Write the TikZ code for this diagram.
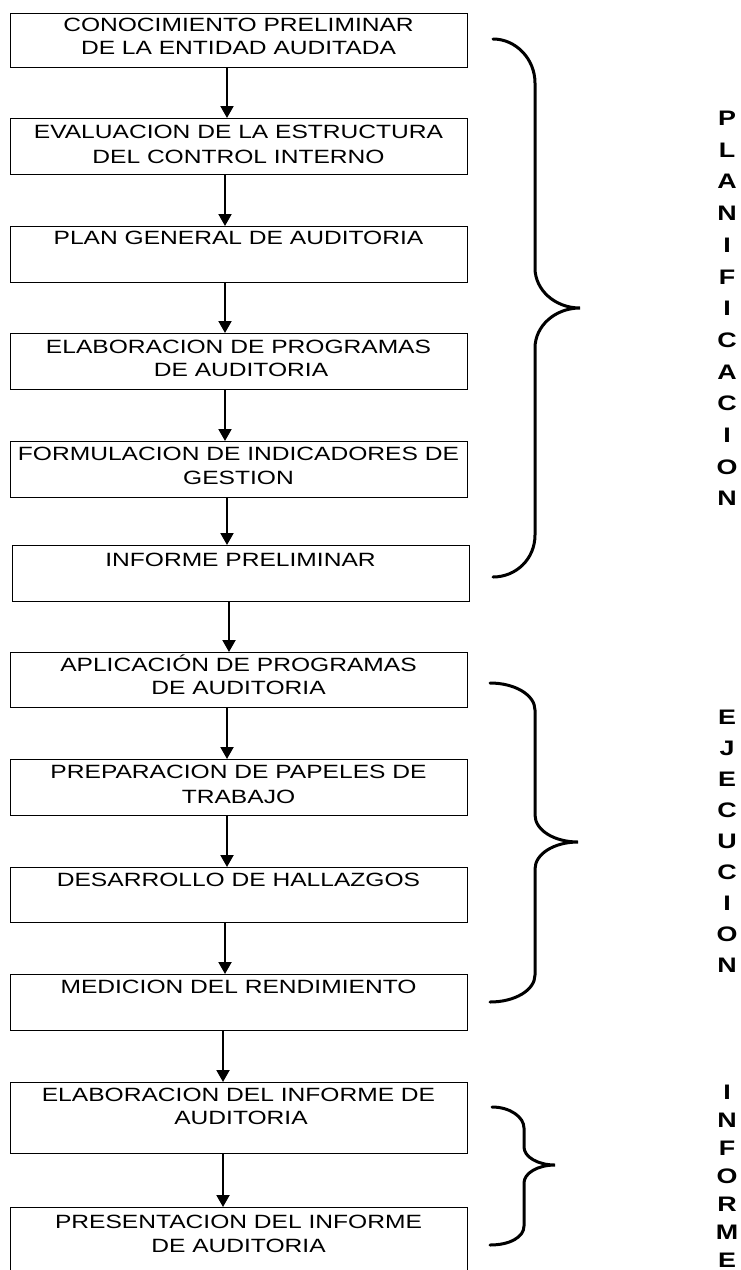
\documentclass[tikz,border=0pt]{standalone}
\usepackage{fontspec}
\setmainfont{Liberation Sans}[FakeStretch=1.28]
\usetikzlibrary{arrows.meta}
\begin{document}
\begin{tikzpicture}[x=1pt,y=-1pt,
  box/.style={draw,line width=1.4pt,minimum width=457pt,inner sep=0pt,anchor=north west},
  txt/.style={anchor=base,inner sep=0pt,font=\fontsize{19.2}{23.5}\selectfont},
  arr/.style={line width=2pt,-{Triangle[width=13pt,length=12pt]}},
  brace/.style={line width=3pt,line cap=round},
  vlet/.style={anchor=base,inner sep=0pt,font=\fontsize{21}{24}\selectfont\bfseries}]
\useasboundingbox (0,0) rectangle (740,1270);
\clip (0,0) rectangle (740,1270);
% boxes
\node[box,minimum height=54pt] (b1) at (10,13) {};
\node[box,minimum height=56pt] (b2) at (10,118) {};
\node[box,minimum height=56pt] (b3) at (10,226) {};
\node[box,minimum height=56pt] (b4) at (10,333) {};
\node[box,minimum height=56pt] (b5) at (10,441) {};
\node[box,minimum height=56pt] (b6) at (12,545) {};
\node[box,minimum height=55pt] (b7) at (10,652) {};
\node[box,minimum height=56pt] (b8) at (10,759) {};
\node[box,minimum height=55pt] (b9) at (10,867) {};
\node[box,minimum height=56pt] (b10) at (10,974) {};
\node[box,minimum height=71pt] (b11) at (10,1082) {};
\node[box,minimum height=80pt] (b12) at (10,1207) {};
% texts
\node[txt] (t1a) at (238.5,31.8) {CONOCIMIENTO PRELIMINAR};
\node[txt] (t1b) at (238.5,54.8) {DE LA ENTIDAD AUDITADA};
\node[txt] (t2a) at (238.5,138.8) {EVALUACION DE LA ESTRUCTURA};
\node[txt] (t2b) at (238.5,163.8) {DEL CONTROL INTERNO};
\node[txt] (t3) at (238.5,244.8) {PLAN GENERAL DE AUDITORIA};
\node[txt] (t4a) at (238.5,353.8) {ELABORACION DE PROGRAMAS};
\node[txt] (t4b) at (241,376.8) {DE AUDITORIA};
\node[txt] (t5a) at (238.5,460.8) {FORMULACION DE INDICADORES DE};
\node[txt] (t5b) at (238.5,484.8) {GESTION};
\node[txt] (t6) at (240.5,566.8) {INFORME PRELIMINAR};
\node[txt] (t7a) at (238.5,671.8) {APLICACIÓN DE PROGRAMAS};
\node[txt] (t7b) at (238.5,694.8) {DE AUDITORIA};
\node[txt] (t8a) at (238.5,778.8) {PREPARACION DE PAPELES DE};
\node[txt] (t8b) at (238.5,803.8) {TRABAJO};
\node[txt] (t9) at (238.5,886.8) {DESARROLLO DE HALLAZGOS};
\node[txt] (t10) at (238.5,993.8) {MEDICION DEL RENDIMIENTO};
\node[txt] (t11a) at (238.5,1101.8) {ELABORACION DEL INFORME DE};
\node[txt] (t11b) at (241,1124.8) {AUDITORIA};
\node[txt] (t12a) at (238.5,1228.8) {PRESENTACION DEL INFORME};
\node[txt] (t12b) at (238.5,1252.8) {DE AUDITORIA};
% arrows
\draw[arr] (b1.south -| 227,0) -- (b2.north -| 227,0);
\draw[arr] (b2.south -| 225,0) -- (b3.north -| 225,0);
\draw[arr] (b3.south -| 225,0) -- (b4.north -| 225,0);
\draw[arr] (b4.south -| 225,0) -- (b5.north -| 225,0);
\draw[arr] (b5.south -| 227,0) -- (b6.north -| 227,0);
\draw[arr] (b6.south -| 229,0) -- (b7.north -| 229,0);
\draw[arr] (b7.south -| 227,0) -- (b8.north -| 227,0);
\draw[arr] (b8.south -| 227,0) -- (b9.north -| 227,0);
\draw[arr] (b9.south -| 225,0) -- (b10.north -| 225,0);
\draw[arr] (b10.south -| 223,0) -- (b11.north -| 223,0);
\draw[arr] (b11.south -| 223,0) -- (b12.north -| 223,0);
% braces
\draw[brace] (493,39) .. controls (516,39) and (535,59) .. (535,83) -- (535,268)
  .. controls (535,290) and (555,308) .. (580,308)
  .. controls (555,308) and (535,326) .. (535,348) -- (535,535)
  .. controls (535,559) and (516,577) .. (493,577);
\draw[brace] (490,683) .. controls (515,683) and (535,695) .. (535,710) -- (535,815)
  .. controls (535,830) and (554,842) .. (578,842)
  .. controls (554,842) and (535,854) .. (535,869) -- (535,975)
  .. controls (535,990) and (515,1002) .. (490,1002);
\draw[brace] (492,1107) .. controls (510,1107) and (524,1117) .. (524,1128) -- (524,1147)
  .. controls (524,1157) and (538,1165) .. (555,1165)
  .. controls (538,1165) and (524,1173) .. (524,1183) -- (524,1226)
  .. controls (524,1237) and (510,1245) .. (490,1245);
% vertical words
\foreach \ch [count=\i from 0] in {P,L,A,N,I,F,I,C,A,C,I,O,N}
  \node[vlet] (pl\i) at (727,{125.5+31.7*\i}) {\ch};
\foreach \ch [count=\i from 0] in {E,J,E,C,U,C,I,O,N}
  \node[vlet] (ej\i) at (727,{724.5+31*\i}) {\ch};
\foreach \ch [count=\i from 0] in {I,N,F,O,R,M,E}
  \node[vlet] (in\i) at (727,{1099.5+28*\i}) {\ch};
\end{tikzpicture}
\end{document}
